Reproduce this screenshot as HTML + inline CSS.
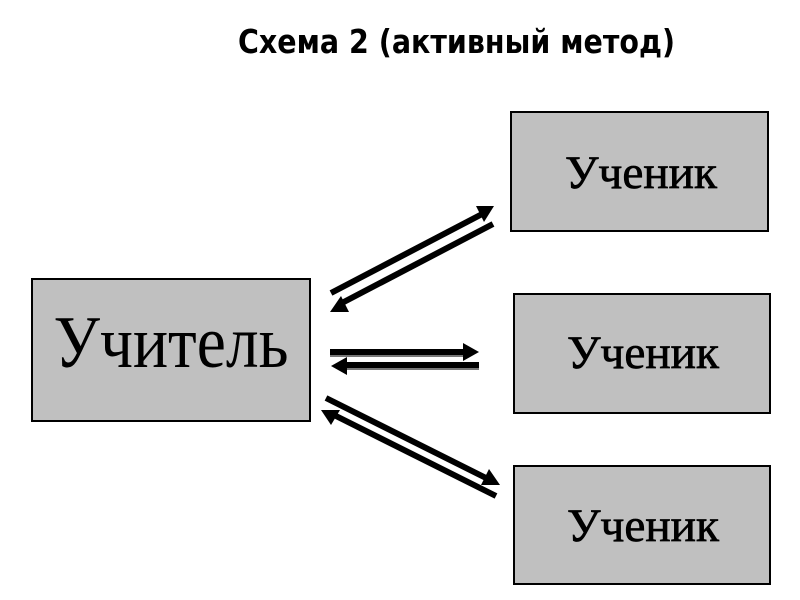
<!DOCTYPE html>
<html>
<head>
<meta charset="utf-8">
<style>
html,body{margin:0;padding:0;background:#fff;width:800px;height:600px;overflow:hidden}
svg{display:block}
</style>
</head>
<body>
<svg width="800" height="600" viewBox="0 0 800 600" xmlns="http://www.w3.org/2000/svg">
<text x="238" y="53" font-family="'DejaVu Sans','Liberation Sans',sans-serif" font-weight="bold" font-size="33" fill="#000" textLength="437" lengthAdjust="spacingAndGlyphs">Схема 2 (активный метод)</text>

<g fill="#c0c0c0" stroke="#000" stroke-width="2">
<rect x="32" y="279" width="278" height="142"/>
<rect x="511" y="112" width="257" height="119"/>
<rect x="514" y="294" width="256" height="119"/>
<rect x="514" y="466" width="256" height="118"/>
</g>

<g font-family="'Liberation Serif',serif" fill="#000" text-anchor="middle">
<text x="171" y="367" font-size="74" textLength="235" lengthAdjust="spacingAndGlyphs">Учитель</text>
<g stroke="#000" stroke-width="0.7">
<text x="641" y="188" font-size="47" textLength="152" lengthAdjust="spacingAndGlyphs">Ученик</text>
<text x="643" y="368" font-size="47" textLength="152" lengthAdjust="spacingAndGlyphs">Ученик</text>
<text x="643" y="541" font-size="47" textLength="152" lengthAdjust="spacingAndGlyphs">Ученик</text>
</g>
</g>

<g stroke="#000" stroke-width="6" fill="none">
<line x1="331" y1="293" x2="486" y2="212"/>
<line x1="493" y1="224" x2="340" y2="304"/>
<line x1="330" y1="352" x2="470" y2="352"/>
<line x1="479" y1="365" x2="342" y2="365"/>
<line x1="326" y1="398" x2="490" y2="480"/>
<line x1="496" y1="496" x2="332" y2="414"/>
</g>
<g stroke="#777" stroke-width="2" fill="none">
<line x1="330" y1="356" x2="470" y2="356"/>
<line x1="342" y1="369" x2="479" y2="369"/>
</g>
<g fill="#000">
<polygon points="494,206 476,206 484,222"/>
<polygon points="330,312 349,312 341,296"/>
<polygon points="479,352 463,343 463,361"/>
<polygon points="331,366 347,357 347,375"/>
<polygon points="500,485 481,485 489,469"/>
<polygon points="321,410 340,410 331,425"/>
</g>
</svg>
</body>
</html>
